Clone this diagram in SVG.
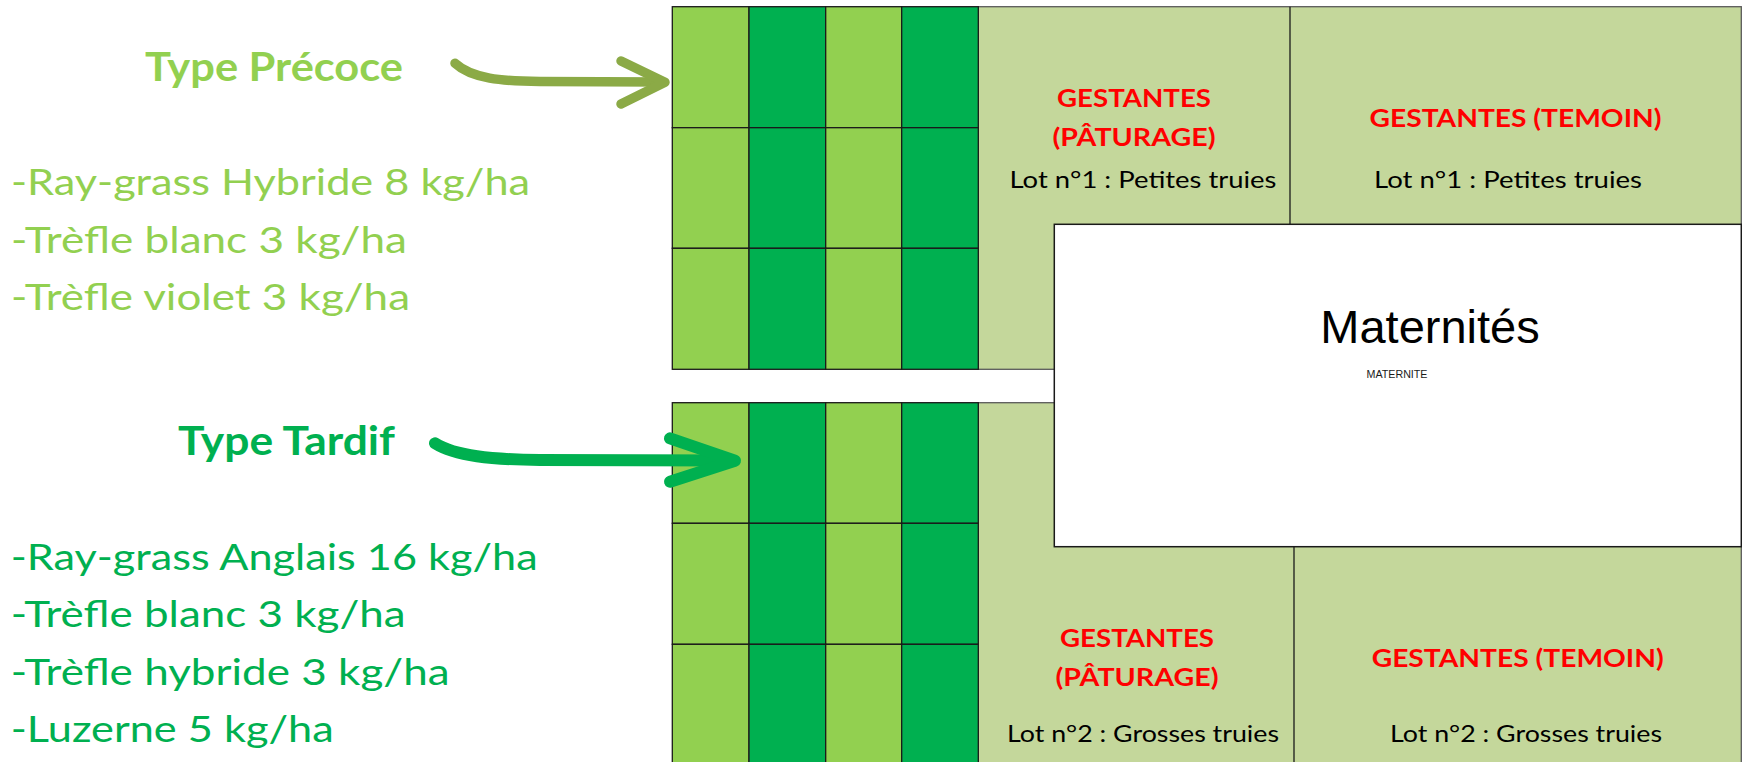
<svg xmlns="http://www.w3.org/2000/svg" width="1742" height="762" viewBox="0 0 1742 762">
  <style>
    .lg { fill: #92D050; }
    .dg { fill: #00B050; }
    .cell { stroke: #1a1a1a; stroke-width: 1.3; }
    .pale { fill: #C4D79B; stroke: #5a5a5a; stroke-width: 1.3; }
    .div { stroke: #1a1a1a; stroke-width: 1.3; }
    .ttl { font-family: Lato, "Open Sans", sans-serif; font-weight: bold; font-size: 41px; }
    .lst { font-family: Lato, "Open Sans", sans-serif; font-size: 37px; }
    .red { font-family: Lato, "Open Sans", sans-serif; font-weight: bold; font-size: 25px; fill: #FF0000; text-anchor: middle; }
    .lot { font-family: Lato, "Open Sans", sans-serif; font-size: 23px; fill: #000000; text-anchor: middle; }
    .tl { fill: #92D050; }
    .tt { fill: #00B050; }
    .arr { fill: none; stroke-linecap: round; stroke-linejoin: round; }
  </style>
  <rect width="1742" height="762" fill="#FFFFFF"/>

  <g id="pale-upper">
    <rect class="pale" x="978.3" y="6.7" width="763" height="362.6"/>
    <line class="div" x1="1290" y1="6.7" x2="1290" y2="224.3"/>
  </g>
  <g id="pale-lower">
    <rect class="pale" x="978.3" y="402.7" width="763" height="370"/>
    <line class="div" x1="1294" y1="546.7" x2="1294" y2="770"/>
  </g>

  <g id="grid-precoce">
    <rect class="cell lg" x="672.3" y="6.7" width="76.7" height="121"/>
    <rect class="cell dg" x="749" y="6.7" width="76.7" height="121"/>
    <rect class="cell lg" x="825.7" y="6.7" width="76" height="121"/>
    <rect class="cell dg" x="901.7" y="6.7" width="76.6" height="121"/>
    <rect class="cell lg" x="672.3" y="127.7" width="76.7" height="120.6"/>
    <rect class="cell dg" x="749" y="127.7" width="76.7" height="120.6"/>
    <rect class="cell lg" x="825.7" y="127.7" width="76" height="120.6"/>
    <rect class="cell dg" x="901.7" y="127.7" width="76.6" height="120.6"/>
    <rect class="cell lg" x="672.3" y="248.3" width="76.7" height="121"/>
    <rect class="cell dg" x="749" y="248.3" width="76.7" height="121"/>
    <rect class="cell lg" x="825.7" y="248.3" width="76" height="121"/>
    <rect class="cell dg" x="901.7" y="248.3" width="76.6" height="121"/>
  </g>

  <g id="grid-tardif">
    <rect class="cell lg" x="672.3" y="402.7" width="76.7" height="120.6"/>
    <rect class="cell dg" x="749" y="402.7" width="76.7" height="120.6"/>
    <rect class="cell lg" x="825.7" y="402.7" width="76" height="120.6"/>
    <rect class="cell dg" x="901.7" y="402.7" width="76.6" height="120.6"/>
    <rect class="cell lg" x="672.3" y="523.3" width="76.7" height="121"/>
    <rect class="cell dg" x="749" y="523.3" width="76.7" height="121"/>
    <rect class="cell lg" x="825.7" y="523.3" width="76" height="121"/>
    <rect class="cell dg" x="901.7" y="523.3" width="76.6" height="121"/>
    <rect class="cell lg" x="672.3" y="644.3" width="76.7" height="125"/>
    <rect class="cell dg" x="749" y="644.3" width="76.7" height="125"/>
    <rect class="cell lg" x="825.7" y="644.3" width="76" height="125"/>
    <rect class="cell dg" x="901.7" y="644.3" width="76.6" height="125"/>
  </g>

  <g id="maternites">
    <rect x="1054.3" y="224.3" width="687" height="322.4" fill="#FFFFFF" stroke="#1a1a1a" stroke-width="1.5"/>
    <text x="1430" y="342.7" font-family="'Liberation Sans', Arial, sans-serif" font-size="47" text-anchor="middle" fill="#000000">Maternités</text>
    <text x="1397" y="377.7" font-family="'Liberation Sans', Arial, sans-serif" font-size="10.5" text-anchor="middle" fill="#1a1a1a" textLength="61" lengthAdjust="spacingAndGlyphs">MATERNITE</text>
  </g>

  <g id="gestantes-paturage-1">
    <text class="red" x="1134" y="106.7" textLength="154" lengthAdjust="spacingAndGlyphs">GESTANTES</text>
    <text class="red" x="1134" y="145.7" textLength="163" lengthAdjust="spacingAndGlyphs">(PÂTURAGE)</text>
    <text class="lot" x="1143" y="188.3" textLength="267" lengthAdjust="spacingAndGlyphs">Lot n°1 : Petites truies</text>
  </g>
  <g id="gestantes-temoin-1">
    <text class="red" x="1515.5" y="126.7" textLength="292" lengthAdjust="spacingAndGlyphs">GESTANTES (TEMOIN)</text>
    <text class="lot" x="1508" y="188.3" textLength="268" lengthAdjust="spacingAndGlyphs">Lot n°1 : Petites truies</text>
  </g>
  <g id="gestantes-paturage-2">
    <text class="red" x="1137" y="646.7" textLength="154" lengthAdjust="spacingAndGlyphs">GESTANTES</text>
    <text class="red" x="1137" y="686" textLength="163" lengthAdjust="spacingAndGlyphs">(PÂTURAGE)</text>
    <text class="lot" x="1143" y="741.7" textLength="272" lengthAdjust="spacingAndGlyphs">Lot n°2 : Grosses truies</text>
  </g>
  <g id="gestantes-temoin-2">
    <text class="red" x="1517.7" y="666.7" textLength="292" lengthAdjust="spacingAndGlyphs">GESTANTES (TEMOIN)</text>
    <text class="lot" x="1526" y="741.7" textLength="272" lengthAdjust="spacingAndGlyphs">Lot n°2 : Grosses truies</text>
  </g>

  <g id="type-precoce">
    <text class="ttl tl" x="145" y="81" textLength="258" lengthAdjust="spacingAndGlyphs">Type Précoce</text>
    <text class="lst tl" x="11" y="195" textLength="519" lengthAdjust="spacingAndGlyphs">-Ray-grass Hybride 8 kg/ha</text>
    <text class="lst tl" x="11" y="253.3" textLength="396" lengthAdjust="spacingAndGlyphs">-Trèfle blanc 3 kg/ha</text>
    <text class="lst tl" x="11" y="310" textLength="399" lengthAdjust="spacingAndGlyphs">-Trèfle violet 3 kg/ha</text>
  </g>

  <g id="type-tardif">
    <text class="ttl tt" x="178" y="455" textLength="217" lengthAdjust="spacingAndGlyphs">Type Tardif</text>
    <text class="lst tt" x="10.7" y="570" textLength="527" lengthAdjust="spacingAndGlyphs">-Ray-grass Anglais 16 kg/ha</text>
    <text class="lst tt" x="10.7" y="626.7" textLength="395" lengthAdjust="spacingAndGlyphs">-Trèfle blanc 3 kg/ha</text>
    <text class="lst tt" x="10.7" y="685" textLength="439" lengthAdjust="spacingAndGlyphs">-Trèfle hybride 3 kg/ha</text>
    <text class="lst tt" x="10.7" y="741.7" textLength="323" lengthAdjust="spacingAndGlyphs">-Luzerne 5 kg/ha</text>
  </g>

  <g id="connectors">
    <g id="arrow-precoce" class="arr" stroke="#8BAA46" stroke-width="9.5">
      <path d="M455,63.3 C472,79 502,81 540,81.5 L662,82"/>
      <path d="M621,61 L665,82.3 L621,104"/>
    </g>
    <g id="arrow-tardif" class="arr" stroke="#00B050" stroke-width="12">
      <path d="M435,443.3 C455,456 492,459.5 540,460 L732,460.5"/>
      <path d="M670,438.3 L735,460.7 L670,481.7"/>
    </g>
  </g>
</svg>
